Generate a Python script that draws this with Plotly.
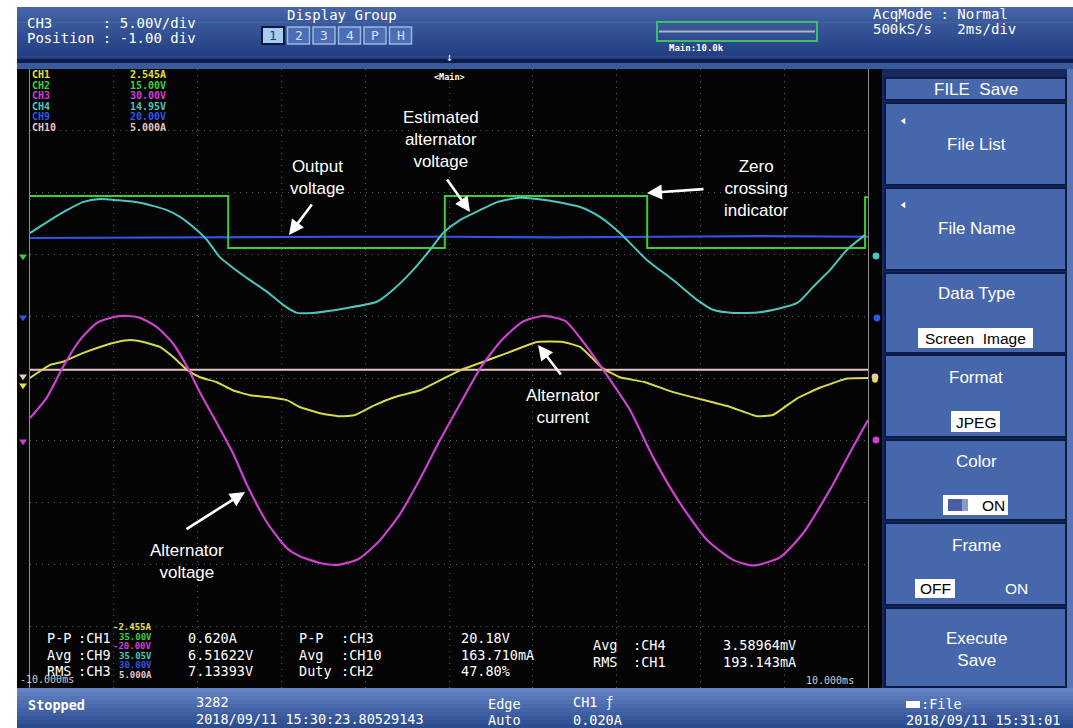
import plotly.graph_objects as go

# ---------------- data (time in ms, level in screen divisions) ----------------
t_ch2 = [-10.0, -5.27, -0.10, 4.73, 9.93, 10.0]
v_ch2 = [2.95, 2.11, 2.95, 2.11, 2.93, 2.93]

t_ch9 = [-10.0, -7.5, -5.0, -2.5, 0.0, 2.5, 5.0, 7.5, 10.0]
v_ch9 = [2.27, 2.28, 2.29, 2.29, 2.29, 2.28, 2.29, 2.30, 2.29]

t_ch10 = [-10.0, -7.5, -5.0, -2.5, 0.0, 2.5, 5.0, 7.5, 10.0]
v_ch10 = [0.14, 0.14, 0.13, 0.14, 0.14, 0.14, 0.13, 0.14, 0.14]

t_ch4 = [-10.0, -9.52, -9.12, -8.74, -8.33, -7.92, -7.37, -6.73, -6.42, -6.11, -5.78,
         -5.47, -5.16, -4.75, -4.34, -3.96, -3.63, -3.25, -2.43, -1.72, -1.34, -0.86,
         -0.45, -0.14, 0.26, 0.74, 1.15, 1.69, 2.34, 3.13, 3.60, 4.08, 4.73, 5.35,
         5.92, 6.30, 6.78, 7.42, 8.31, 8.69, 9.09, 9.50, 9.93]
v_ch4 = [2.35, 2.56, 2.72, 2.85, 2.90, 2.88, 2.84, 2.72, 2.61, 2.45, 2.24,
         1.96, 1.79, 1.59, 1.40, 1.19, 1.06, 1.06, 1.14, 1.24, 1.43, 1.75,
         2.08, 2.35, 2.56, 2.72, 2.85, 2.92, 2.88, 2.77, 2.61, 2.35, 1.91, 1.59,
         1.27, 1.11, 1.06, 1.07, 1.22, 1.48, 1.75, 2.08, 2.32]

t_ch3 = [-10.0, -9.59, -9.21, -8.81, -8.40, -8.02, -7.68, -7.37, -6.97, -6.59, -6.25,
         -5.94, -5.54, -5.16, -4.82, -4.34, -3.87, -3.56, -3.08, -2.65, -2.17, -1.67,
         -1.17, -0.69, -0.21, 0.29, 0.76, 1.26, 1.74, 2.24, 2.77, 3.25, 3.68, 4.32,
         4.87, 5.51, 6.16, 6.78, 7.26, 7.90, 8.45, 9.09, 9.64, 10.0]
v_ch3 = [-0.64, -0.30, 0.19, 0.62, 0.90, 0.99, 1.01, 0.98, 0.83, 0.57, 0.19,
         -0.23, -0.72, -1.20, -1.72, -2.33, -2.74, -2.87, -2.98, -3.01, -2.92, -2.63,
         -2.19, -1.62, -0.99, -0.38, 0.18, 0.62, 0.91, 1.01, 0.93, 0.55, 0.14, -0.51,
         -1.27, -2.01, -2.61, -2.93, -3.02, -2.89, -2.50, -1.80, -1.11, -0.67]

t_ch1 = [-10.0, -9.52, -9.21, -8.74, -8.33, -7.92, -7.61, -7.30, -6.90, -6.59, -6.25,
         -5.94, -5.54, -5.16, -4.75, -4.34, -3.87, -3.56, -3.08, -2.60, -2.24, -1.77,
         -1.29, -0.69, -0.10, 0.29, 0.74, 1.38, 2.10, 2.72, 3.13, 3.68, 4.08, 4.68,
         5.35, 5.92, 6.71, 7.35, 7.73, 8.31, 8.85, 9.50, 10.0]
v_ch1 = [0.01, 0.22, 0.27, 0.41, 0.51, 0.59, 0.62, 0.59, 0.51, 0.35, 0.14,
         0.02, -0.06, -0.19, -0.27, -0.30, -0.35, -0.46, -0.56, -0.61, -0.59, -0.43,
         -0.30, -0.19, 0.01, 0.14, 0.25, 0.41, 0.59, 0.59, 0.51, 0.16, 0.02, -0.06,
         -0.22, -0.32, -0.46, -0.61, -0.59, -0.32, -0.15, 0.00, 0.01]

ch_names = ["CH1", "CH2", "CH3", "CH4", "CH9", "CH10"]
ch_top_vals = ["2.545A", "15.00V", "30.00V", "14.95V", "20.00V", "5.000A"]
ch_bot_vals = ["-2.455A", "35.00V", "-20.00V", "35.05V", "30.00V", "5.000A"]

meas_left = [("P-P", ":CH1", "0.620A"), ("Avg", ":CH9", "6.51622V"), ("RMS", ":CH3", "7.13393V")]
meas_mid = [("P-P", ":CH3", "20.18V"), ("Avg", ":CH10", "163.710mA"), ("Duty", ":CH2", "47.80%")]
meas_right = [("Avg", ":CH4", "3.58964mV"), ("RMS", ":CH1", "193.143mA")]

menu_items = ["File List", "File Name", "Data Type", "Format", "Color", "Frame", "Execute<br>Save"]
display_groups = ["1", "2", "3", "4", "P", "H"]

# ---------------- styling helpers ----------------
W, H = 1073, 728
MONO = "DejaVu Sans Mono"
SANS = "Liberation Sans, Arial, sans-serif"
COL = {"CH1": "#e4e040", "CH2": "#3ad23a", "CH3": "#d23cd6", "CH4": "#46c8c0",
       "CH9": "#2f58e8", "CH10": "#e8c4c8"}


def px(x):
    return x / W


def py(y):
    return 1 - y / H


shapes = []
annotations = []


def rect(x0, y0, x1, y1, fill, line=None, lw=0, layer="above"):
    shapes.append(dict(type="rect", xref="paper", yref="paper",
                       x0=px(x0), x1=px(x1), y0=py(y1), y1=py(y0),
                       fillcolor=fill, line=dict(color=line or fill, width=lw), layer=layer))


def hexrgb(c):
    c = c.lstrip("#")
    return [int(c[i:i + 2], 16) for i in (0, 2, 4)]


def mix(c1, c2, f):
    a, b = hexrgb(c1), hexrgb(c2)
    return "#" + "".join("%02x" % round(a[i] + (b[i] - a[i]) * f) for i in range(3))


def grad(x0, y0, x1, y1, ctop, cbot, n=14):
    h = (y1 - y0) / n
    for i in range(n):
        rect(x0, y0 + i * h, x1, min(y1, y0 + (i + 1) * h + 0.6), mix(ctop, cbot, i / (n - 1)))


def text(x, y, s, color="#ffffff", size=14, family=MONO, xanchor="left", yanchor="middle", bg=None):
    d = dict(xref="paper", yref="paper", x=px(x), y=py(y), text=s, showarrow=False,
             xanchor=xanchor, yanchor=yanchor, font=dict(color=color, size=size, family=family),
             borderpad=0)
    if bg:
        d["bgcolor"] = bg
    annotations.append(d)


def arrow(tx, ty, hx, hy):
    annotations.append(dict(xref="paper", yref="paper", x=px(hx), y=py(hy),
                            ax=tx - hx, ay=ty - hy, axref="pixel", ayref="pixel",
                            text="", showarrow=True, arrowhead=2, arrowsize=1.15,
                            arrowwidth=2.6, arrowcolor="#ffffff", standoff=0))


def circle(cx, cy, r, color):
    shapes.append(dict(type="circle", xref="paper", yref="paper",
                       x0=px(cx - r), x1=px(cx + r), y0=py(cy + r), y1=py(cy - r),
                       fillcolor=color, line=dict(color=color, width=0)))


def poly(pts, color):
    path = "M " + " L ".join("%f,%f" % (px(a), py(b)) for a, b in pts) + " Z"
    shapes.append(dict(type="path", xref="paper", yref="paper", path=path,
                       fillcolor=color, line=dict(color=color, width=0)))


def tri_down(cx, cy, s, color):
    poly([(cx - s, cy - s * 0.6), (cx + s, cy - s * 0.6), (cx, cy + s * 0.8)], color)


def tri_left(cx, cy, s, color):
    poly([(cx + s * 0.7, cy - s), (cx + s * 0.7, cy + s), (cx - s * 0.7, cy)], color)


# ---------------- background panels ----------------
rect(17, 62, 882, 688, "#040404", layer="below")
grad(17, 7, 1073, 60, "#4464a6", "#213d80")
rect(17, 59, 1073, 63, "#0e1b46")
rect(17, 63, 1073, 69, "#3a5a9c")
rect(882, 69, 1073, 688, "#17295c")
rect(1067, 69, 1073, 688, "#5676b8")
grad(17, 688, 1073, 728, "#6282c4", "#2c4c90", n=10)

# ---------------- header ----------------
text(26, 23, "CH3      : 5.00V/div", size=14)
text(26, 38, "Position : -1.00 div", size=14)
text(342, 15, "Display Group", size=14, xanchor="center")
for i, g in enumerate(display_groups):
    x0 = 262 + i * 25.5
    if i == 0:
        rect(x0, 27, x0 + 22, 44, "#a8ccf2", line="#0c1a40", lw=2)
        text(x0 + 11, 35.5, g, color="#1c3c7c", size=13, xanchor="center")
    else:
        rect(x0, 27, x0 + 22, 44, "#4a6db4", line="#9cb6e2", lw=1.5)
        text(x0 + 11, 35.5, g, color="#d4e2f8", size=13, xanchor="center")
shapes.append(dict(type="rect", xref="paper", yref="paper", x0=px(657), x1=px(817),
                   y0=py(41), y1=py(22), fillcolor="rgba(0,0,0,0)",
                   line=dict(color="#3cc064", width=2)))
shapes.append(dict(type="line", xref="paper", yref="paper", x0=px(659), x1=px(815),
                   y0=py(31.5), y1=py(31.5), line=dict(color="#aab4c8", width=2)))
text(668, 48, "<b>Main:10.0k</b>", size=9)
text(872, 14, "AcqMode : Normal", size=14)
text(872, 29, "500kS/s   2ms/div", size=14)
text(449, 58, "↓", size=11, xanchor="center")
text(449, 77, "<b>&lt;Main&gt;</b>", size=8.5, xanchor="center")

# ---------------- channel block ----------------
for i, (n, v) in enumerate(zip(ch_names, ch_top_vals)):
    yy = 75 + i * 10.5
    text(31, yy, "<b>%s</b>" % n, color=COL[n], size=10)
    text(167, yy, "<b>%s</b>" % v, color=COL[n], size=10, xanchor="right")

# ---------------- measurements ----------------
for i, (a, b, c) in enumerate(meas_left):
    yy = 638 + i * 16.5
    text(46, yy, a, size=13.5)
    text(77, yy, b, size=13.5)
    text(187, yy, c, size=13.5)
for i, (a, b, c) in enumerate(meas_mid):
    yy = 638 + i * 16.5
    text(298, yy, a, size=13.5)
    text(340, yy, b, size=13.5)
    text(460, yy, c, size=13.5)
for i, (a, b, c) in enumerate(meas_right):
    yy = 645 + i * 16.5
    text(592, yy, a, size=13.5)
    text(632, yy, b, size=13.5)
    text(722, yy, c, size=13.5)
for i, (n, v) in enumerate(zip(ch_names, ch_bot_vals)):
    yy = 627 + i * 9.5
    text(153, yy, "<b>%s</b>" % v, color=COL[n], size=9, xanchor="right")
text(19, 679, "-10.000ms", color="#d0d0d0", size=10)
text(855, 680, "10.000ms", color="#d0d0d0", size=10, xanchor="right")

# ---------------- status bar ----------------
text(27, 705, "<b>Stopped</b>", size=13.5)
text(195, 702, "3282", size=13.5)
text(195, 719, "2018/09/11 15:30:23.80529143", size=13.5)
text(487, 704, "Edge", size=13.5)
text(487, 720, "Auto", size=13.5)
text(572, 702, "CH1 ƒ", size=13.5)
text(572, 720, "0.020A", size=13.5)
rect(906, 701, 920, 708, "#ffffff")
text(920, 704, ":File", size=13.5)
text(905, 720, "2018/09/11 15:31:01", size=13.5)

# ---------------- right menu ----------------
btn_y = [(103, 185), (188, 270), (273, 353), (355, 437), (440, 520), (523, 605), (608, 687)]
rect(885, 78, 1066, 100, "#4767ad", line="#0c1a46", lw=2)
text(976, 89, "FILE  Save", size=17, family=SANS, xanchor="center")
title_y = [145, 228, 293, 377, 461, 545, 649]
for (y0, y1), lab, ty in zip(btn_y, menu_items, title_y):
    rect(885, y0, 1066, y1, "#4767ad", line="#0c1a46", lw=2)
    text(976, ty, lab, size=17, family=SANS, xanchor="center")
tri_left(903, 121, 3.2, "#ffffff")
tri_left(903, 205, 3.2, "#ffffff")
rect(918, 328, 1033, 348, "#ffffff")
text(975, 338, "Screen  Image", color="#000000", size=15.5, family=SANS, xanchor="center")
rect(951, 411, 1000, 432, "#ffffff")
text(975.5, 422, "JPEG", color="#000000", size=15.5, family=SANS, xanchor="center")
rect(943, 495, 1008, 515, "#ffffff")
rect(948, 499, 962, 511, "#4a5ea8")
rect(962, 499, 968, 511, "#8a9ac8")
text(993, 505, "ON", color="#000000", size=15.5, family=SANS, xanchor="center")
rect(915, 579, 955, 598, "#ffffff")
text(935, 588.5, "OFF", color="#000000", size=15.5, family=SANS, xanchor="center")
text(1016, 588.5, "ON", size=15.5, family=SANS, xanchor="center")

# ---------------- channel markers ----------------
tri_down(23, 257, 4, COL["CH2"])
tri_down(23, 318, 4, COL["CH9"])
tri_down(23, 377, 4, COL["CH10"])
tri_down(23, 386, 4, COL["CH1"])
tri_down(23, 442, 4, COL["CH3"])
circle(876, 256, 3.4, COL["CH4"])
circle(877, 318, 3.4, COL["CH9"])
circle(875, 377, 3.4, COL["CH10"])
circle(875, 380, 2.8, COL["CH1"])
circle(876, 440, 3.4, COL["CH3"])

# ---------------- callouts ----------------
CALL = dict(size=17, family=SANS)
text(317, 177, "Output<br>voltage", xanchor="center", **CALL)
arrow(313, 203, 289, 235)
text(441, 139, "Estimated<br>alternator<br>voltage", xanchor="center", **CALL)
arrow(446, 178, 470, 212)
text(756, 189, "Zero<br>crossing<br>indicator", xanchor="center", **CALL)
arrow(705, 189, 647, 193)
text(563, 406, "Alternator<br>current", xanchor="center", **CALL)
arrow(562, 376, 538, 345)
text(187, 561, "Alternator<br>voltage", xanchor="center", **CALL)
arrow(185, 530, 245, 492)

# ---------------- traces ----------------
fig = go.Figure()
fig.add_trace(go.Scatter(x=t_ch10, y=v_ch10, mode="lines", line=dict(color="#e6c4c6", width=2), hoverinfo="skip"))
fig.add_trace(go.Scatter(x=t_ch9, y=v_ch9, mode="lines", line=dict(color="#2b56e8", width=2.2), hoverinfo="skip"))
fig.add_trace(go.Scatter(x=t_ch2, y=v_ch2, mode="lines", line=dict(color="#36d036", width=2, shape="hv"), hoverinfo="skip"))
fig.add_trace(go.Scatter(x=t_ch4, y=v_ch4, mode="lines", line=dict(color="#4cc6be", width=2, shape="spline", smoothing=0.6), hoverinfo="skip"))
fig.add_trace(go.Scatter(x=t_ch1, y=v_ch1, mode="lines", line=dict(color="#d8d84a", width=2, shape="spline", smoothing=0.4), hoverinfo="skip"))
fig.add_trace(go.Scatter(x=t_ch3, y=v_ch3, mode="lines", line=dict(color="#cc42d0", width=2.2, shape="spline", smoothing=0.6), hoverinfo="skip"))

fig.update_layout(
    width=W, height=H, margin=dict(l=0, r=0, t=0, b=0),
    paper_bgcolor="#ffffff", plot_bgcolor="#040404", showlegend=False,
    shapes=shapes, annotations=annotations,
    xaxis=dict(domain=[px(30), px(868)], range=[-10, 10], dtick=2, tick0=-10,
               showticklabels=False, ticks="", showgrid=True, gridcolor="#5e5e5e",
               griddash="1px,5px", gridwidth=1, zeroline=False, fixedrange=True),
    yaxis=dict(domain=[py(688), py(69)], range=[-5, 5], dtick=1, tick0=0,
               showticklabels=False, ticks="", showgrid=True, gridcolor="#5e5e5e",
               griddash="1px,5px", gridwidth=1, zeroline=False, fixedrange=True,
               showline=True, mirror=True, linecolor="#8e8e8e", linewidth=1),
)
fig.write_html("out.html", config={"displayModeBar": False},
               post_script="document.body.style.margin='0px';document.body.style.padding='0px';")
